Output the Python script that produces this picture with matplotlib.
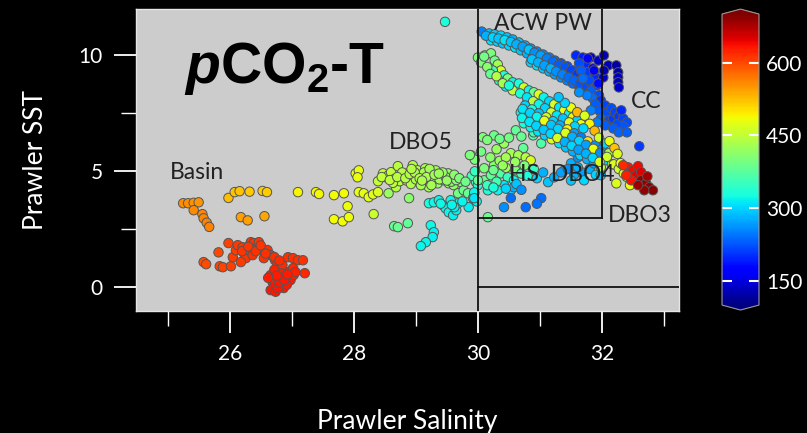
import numpy as np
import matplotlib
matplotlib.use("Agg")
import matplotlib.pyplot as plt
from matplotlib.colors import Normalize

plt.rcParams['font.family'] = ['Lato', 'DejaVu Sans']
plt.rcParams['mathtext.fontset'] = 'custom'
plt.rcParams['mathtext.rm'] = 'Liberation Sans:bold'
plt.rcParams['mathtext.bf'] = 'Liberation Sans:bold'
plt.rcParams['mathtext.bfit'] = 'Liberation Sans:bold:italic'

# ---- data: salinity, SST, pCO2 ----
basin_sal = [25.25, 25.33, 25.42, 25.50, 25.42, 25.56, 25.58, 25.63, 25.67]
basin_sst = [3.62, 3.62, 3.64, 3.66, 3.32, 3.15, 2.97, 2.78, 2.60]
basin_pco2 = [555, 555, 552, 552, 558, 560, 560, 562, 562]

row_sal = [25.98, 26.08, 26.16, 26.32, 26.53, 26.60, 26.18, 26.29, 26.56,
           27.10, 27.39, 27.44, 27.68, 27.84]
row_sst = [3.85, 4.10, 4.14, 4.12, 4.15, 4.10, 3.02, 2.88, 3.06,
           4.10, 4.10, 4.02, 3.97, 4.05]
row_pco2 = [525, 520, 520, 518, 515, 515, 545, 545, 540,
            490, 488, 488, 485, 485]

red_sal = [25.58, 25.62, 25.82, 25.84, 25.89, 25.98, 26.02, 26.05, 26.10, 26.13,
           26.21, 26.23, 26.26, 26.18, 26.29, 26.34, 26.39, 26.45, 26.37, 26.47,
           26.53, 26.61, 26.66, 26.55, 26.73, 26.77, 26.85, 26.94, 27.02, 27.10,
           27.18, 26.66, 26.69, 26.66, 26.74, 26.79, 26.82, 26.85, 26.90, 26.95,
           26.98, 27.02, 27.03, 27.06, 27.21, 26.87, 26.74, 26.70, 26.78, 26.92,
           26.20, 26.30, 26.42, 26.50, 26.58, 26.72, 26.80, 26.72, 26.80, 26.88,
           26.93, 26.76, 26.62]
red_sst = [1.08, 0.99, 1.50, 0.90, 0.86, 1.90, 0.90, 1.29, 1.59, 1.81,
           1.72, 1.47, 1.25, 1.08, 1.60, 1.94, 1.90, 1.72, 1.38, 1.94,
           1.60, 1.60, 1.38, 1.25, 1.16, 1.03, 0.95, 1.29, 1.25, 1.16,
           1.16, 0.52, 0.22, -0.13, 0.09, 0.39, 0.60, 0.17, 0.43, 0.65,
           0.30, 0.82, 0.52, 0.65, 0.60, -0.04, -0.20, 0.35, -0.05, 0.10,
           1.55, 1.75, 1.55, 1.80, 1.45, 1.30, 1.15, 0.75, 0.20, 0.30,
           0.55, 0.50, 0.40]
red_pco2 = [595, 598, 600, 602, 602, 605, 605, 608, 608, 610,
            610, 612, 612, 610, 612, 612, 612, 614, 614, 612,
            615, 615, 615, 615, 615, 618, 618, 615, 615, 615,
            615, 625, 628, 632, 630, 628, 625, 630, 628, 625,
            628, 622, 625, 625, 622, 632, 632, 628, 632, 630,
            612, 612, 614, 612, 615, 616, 618, 626, 630, 630,
            628, 628, 628]

yel_sal = [28.03, 28.08, 28.06, 28.08, 28.16, 28.24, 28.31, 28.39, 27.90,
           27.68, 27.82, 27.92, 28.32]
yel_sst = [4.91, 5.04, 4.74, 4.10, 4.05, 3.88, 4.00, 4.10, 3.49,
           2.93, 2.84, 3.02, 3.15]
yel_pco2 = [480, 480, 480, 478, 476, 476, 474, 470, 482, 485, 485, 484, 458]

dbo5_sal = [28.39, 28.47, 28.52, 28.56, 28.60, 28.65, 28.56, 28.71, 28.68, 28.74,
            28.89, 28.87, 28.95, 28.97, 29.03, 29.05, 29.11, 29.15, 29.19, 29.21,
            29.27, 29.29, 29.32, 29.35, 29.40, 29.45, 29.52, 29.53, 29.60, 29.61,
            29.68, 29.73, 29.77, 29.84, 29.89, 29.97, 28.80, 28.85, 28.92, 29.00,
            29.08, 29.13, 29.25, 29.38, 29.48, 29.57, 29.65, 28.63, 28.78, 29.22,
            29.43, 29.90, 29.95, 30.00,
            28.45, 28.58, 28.70, 28.83, 28.90, 28.98, 29.06, 29.17, 29.30, 29.37,
            29.50, 29.62, 29.70, 29.80, 28.93, 29.10, 29.25]
dbo5_sst = [4.57, 4.91, 4.74, 4.83, 4.96, 4.66, 4.05, 5.22, 4.31, 4.57,
            3.84, 4.91, 5.26, 4.74, 5.04, 4.53, 4.83, 5.13, 4.61, 4.31,
            4.96, 4.70, 5.04, 4.48, 4.83, 4.61, 4.91, 4.48, 4.70, 4.40,
            4.05, 4.53, 4.18, 4.05, 5.69, 4.53, 4.80, 4.60, 4.45, 4.65,
            4.40, 4.95, 4.55, 4.65, 4.75, 4.55, 4.62, 4.50, 4.95, 5.10,
            4.95, 4.80, 5.00, 4.40,
            4.75, 4.62, 4.75, 4.70, 4.88, 4.95, 4.70, 4.75, 4.85, 4.90,
            4.60, 4.85, 4.70, 4.55, 5.10, 4.60, 4.40]
dbo5_pco2 = [452, 450, 450, 448, 448, 446, 420, 445, 440, 444,
             410, 442, 440, 440, 438, 438, 436, 434, 432, 430,
             430, 428, 426, 424, 422, 420, 418, 415, 412, 410,
             395, 405, 390, 385, 395, 350, 444, 440, 438, 436,
             432, 432, 428, 424, 420, 414, 410, 448, 442, 430,
             420, 360, 350, 340,
             450, 448, 445, 442, 440, 438, 436, 432, 428, 424,
             418, 410, 400, 390, 440, 436, 430]

cyan_sal = [29.21, 29.29, 29.37, 29.44, 29.48, 29.53, 29.60, 29.65, 29.68, 29.56,
            29.85, 29.92, 29.94, 29.40, 29.62, 29.75, 29.58, 29.98,
            28.65, 28.71, 28.87, 29.24, 29.29, 29.27, 29.16, 29.08]
cyan_sst = [3.62, 3.66, 3.75, 3.53, 3.40, 3.23, 3.10, 3.32, 3.62, 3.75,
            3.45, 3.84, 4.05, 3.60, 3.45, 3.70, 3.55, 3.70,
            2.63, 2.59, 2.76, 2.67, 2.37, 2.16, 1.94, 1.77]
cyan_pco2 = [325, 322, 320, 320, 318, 318, 316, 316, 318, 320,
             315, 318, 320, 322, 316, 318, 320, 320,
             385, 385, 380, 322, 316, 316, 320, 320]

hs_sal = [30.08, 30.26, 30.61, 30.89, 30.90, 31.02, 30.73, 30.42, 30.53, 30.65,
          30.77, 30.85, 30.26, 30.10, 30.10, 30.00, 30.21, 30.37, 30.48, 30.58,
          30.42, 30.53, 30.58, 30.32, 30.16, 29.94, 29.94, 31.13, 31.23, 31.39,
          31.50, 31.61, 30.53, 31.02, 30.42, 30.77, 30.16, 30.95, 29.95, 30.05,
          30.20, 30.35, 30.45, 30.60, 30.70, 30.80, 30.95, 31.05, 30.30, 30.15,
          30.89, 30.80, 29.87, 31.34, 31.45, 31.55, 31.68, 31.80, 31.90, 31.50,
          31.98, 31.71, 31.61, 31.82,
          30.15, 30.35, 30.50, 30.70, 30.30, 30.45, 30.60, 30.75, 30.90, 30.25,
          30.40, 30.25, 30.45, 30.62, 30.70]
hs_sst = [6.47, 6.55, 6.77, 6.55, 6.68, 6.20, 6.00, 6.20, 5.78, 5.69,
          5.60, 5.47, 5.26, 5.13, 4.61, 4.61, 4.83, 4.91, 4.74, 4.61,
          4.40, 4.18, 4.31, 4.18, 4.18, 4.09, 3.84, 4.53, 4.74, 5.04,
          5.34, 5.60, 3.84, 3.84, 3.45, 3.45, 3.02, 3.60, 5.50, 5.85,
          5.60, 5.45, 5.15, 5.05, 4.90, 4.80, 4.70, 4.95, 4.55, 4.40,
          7.41, 8.06, 5.70, 4.95, 5.10, 4.85, 4.95, 5.10, 4.85, 4.60,
          4.83, 4.61, 5.17, 5.82,
          6.35, 6.40, 6.45, 6.50, 5.95, 5.60, 5.40, 5.25, 5.10, 5.05,
          5.25, 4.30, 4.25, 4.45, 4.20]
hs_pco2 = [400, 390, 380, 370, 360, 370, 380, 420, 430, 430,
           440, 470, 410, 400, 390, 380, 380, 370, 350, 320,
           310, 300, 280, 320, 330, 320, 310, 290, 280, 290,
           280, 260, 240, 240, 260, 240, 385, 245, 400, 395,
           410, 420, 430, 400, 360, 330, 300, 280, 360, 350,
           350, 340, 400, 270, 260, 280, 270, 280, 300, 290,
           290, 300, 280, 270,
           400, 390, 395, 385, 420, 430, 420, 400, 350, 390,
           420, 330, 300, 290, 260]

bandA_sal = [30.06, 30.18, 30.27, 30.37, 30.47, 30.56, 30.66, 30.76, 30.85, 30.95,
             31.05, 31.15, 31.24, 31.34, 31.44, 31.53,
             30.21, 30.31, 30.40, 30.50, 30.60, 30.69, 30.79, 30.89, 30.98, 31.08,
             31.18, 31.27, 31.37, 31.47, 31.56, 31.66,
             30.85, 30.95, 31.05, 31.15, 31.24, 31.34, 31.44, 31.53, 31.63, 31.73,
             31.82,
             30.13, 30.24, 30.33, 30.43, 30.53, 30.62, 30.72, 30.82, 30.91, 31.01,
             31.11, 31.21, 31.30, 31.40, 31.50, 31.60,
             30.87, 30.97, 31.07, 31.17, 31.26, 31.36, 31.46, 31.55, 31.65, 31.75]
bandA_sst = [11.03, 10.95, 10.91, 10.86, 10.78, 10.69, 10.56, 10.43, 10.30, 10.17,
             10.04, 9.91, 9.78, 9.66, 9.53, 9.35,
             10.65, 10.60, 10.52, 10.43, 10.34, 10.22, 10.09, 9.96, 9.83, 9.70,
             9.57, 9.44, 9.31, 9.18, 9.05, 8.92,
             9.70, 9.57, 9.44, 9.31, 9.18, 9.05, 8.92, 8.79, 8.66, 8.53,
             8.41,
             10.85, 10.78, 10.73, 10.66, 10.58, 10.48, 10.38, 10.25, 10.12, 10.00,
             9.87, 9.73, 9.60, 9.48, 9.36, 9.20,
             9.83, 9.70, 9.57, 9.44, 9.31, 9.18, 9.05, 8.92, 8.79, 8.66]
bandA_pco2 = [250, 290, 295, 300, 290, 280, 290, 280, 270, 260,
              260, 250, 240, 230, 220, 210,
              310, 300, 290, 300, 310, 290, 280, 300, 270, 260,
              250, 240, 230, 220, 215, 210,
              300, 310, 290, 280, 270, 260, 250, 240, 230, 220,
              215,
              280, 300, 290, 310, 290, 280, 270, 290, 260, 270,
              250, 240, 230, 225, 215, 210,
              290, 280, 270, 280, 260, 250, 240, 235, 225, 220]

blue_sal = [31.58, 31.69, 31.82, 31.94, 31.74, 31.63, 31.85, 31.76, 31.66, 31.89,
            31.79, 31.69, 31.92, 31.82, 31.95, 31.85, 31.98, 31.89, 31.76, 31.63,
            32.05, 31.95, 32.08, 31.98, 31.82, 32.11, 32.18, 32.05, 31.92,
            32.03, 32.10, 32.23, 32.26, 32.26, 32.26, 32.27, 32.02, 32.03, 31.77,
            31.87, 31.94,
            32.15, 32.21, 32.27, 32.34, 32.40, 32.34, 32.24, 32.18, 32.27, 32.40,
            32.31, 32.60]
blue_sst = [10.00, 9.91, 9.91, 9.78, 9.57, 9.66, 9.44, 9.27, 9.35, 9.09,
            8.92, 9.01, 8.71, 8.49, 8.28, 8.15, 8.06, 7.89, 8.28, 8.41,
            7.84, 7.63, 7.54, 7.28, 7.63, 7.20, 7.28, 6.98, 7.11,
            10.00, 9.57, 9.57, 9.27, 9.05, 8.84, 8.62, 9.05, 9.35, 9.87,
            9.35, 8.79,
            7.72, 7.54, 7.37, 7.28, 7.11, 6.94, 7.03, 6.85, 6.68, 6.68,
            7.63, 6.08]
blue_pco2 = [200, 190, 150, 140, 200, 220, 170, 210, 230, 200,
             220, 240, 210, 230, 220, 240, 210, 230, 250, 260,
             215, 230, 220, 240, 250, 220, 210, 230, 250,
             130, 130, 120, 125, 130, 135, 140, 140, 130, 170,
             160, 180,
             220, 215, 210, 215, 220, 225, 220, 230, 235, 230,
             200, 210]

bandB_sal = [30.00, 30.11, 30.21, 30.27, 30.32, 30.37, 30.42, 30.48, 30.56, 30.66,
             30.74, 30.82, 30.90, 30.98, 31.06, 31.15, 31.23, 31.31, 31.39, 31.47,
             31.53, 31.60, 31.66,
             30.24, 30.34, 30.45, 30.56, 30.68, 30.79, 30.89, 30.98, 31.08, 31.18,
             31.27, 31.37, 31.47, 31.56, 29.47,
             30.05, 30.15, 30.20, 30.30, 30.10, 30.40, 30.50]
bandB_sst = [9.91, 10.00, 10.09, 9.78, 9.61, 9.35, 9.14, 9.01, 8.84, 8.79,
             8.62, 8.49, 8.41, 8.32, 8.19, 8.02, 7.89, 7.76, 7.63, 7.50,
             7.33, 7.20, 7.03,
             9.35, 8.92, 8.66, 8.49, 8.36, 8.19, 8.02, 7.89, 7.72, 7.54,
             7.41, 7.28, 7.11, 6.94, 11.45,
             9.70, 9.50, 9.20, 9.10, 9.95, 8.80, 8.70]
bandB_pco2 = [400, 390, 400, 390, 430, 470, 330, 400, 320, 330,
              460, 320, 390, 470, 320, 300, 470, 310, 480, 320,
              490, 300, 480,
              360, 340, 320, 450, 330, 310, 440, 320, 300, 460,
              310, 290, 470, 300, 330,
              400, 410, 380, 440, 395, 430, 330]

swath_sal = [30.69, 30.81, 30.92, 31.03, 31.15, 31.26, 31.37, 31.48, 31.60, 31.71,
             31.82, 31.94, 32.05, 32.16,
             30.76, 30.87, 30.98, 31.10, 31.21, 31.32, 31.44, 31.55, 31.66, 31.77,
             31.89, 32.00, 32.11,
             30.74, 30.85, 30.97, 31.08, 31.19, 31.31, 31.42, 31.53, 31.65, 31.76,
             31.87, 31.98,
             31.50, 31.60, 31.72, 31.80, 31.88, 31.70, 31.95, 32.05, 31.40, 31.30,
             32.12, 32.20, 32.25,
             30.72, 30.84, 30.95, 31.07, 31.18, 31.29, 31.41, 31.52, 31.63, 31.74,
             31.86, 31.97, 32.08,
             30.71, 30.83, 30.94, 31.06, 31.17, 31.28, 31.40, 31.51, 31.62, 31.74,
             31.85, 31.96]
swath_sst = [7.54, 7.37, 7.20, 7.03, 6.85, 6.68, 6.51, 6.34, 6.16, 5.99,
             5.82, 5.65, 5.47, 5.30,
             7.84, 7.67, 7.50, 7.33, 7.16, 6.98, 6.81, 6.64, 6.47, 6.29,
             6.12, 5.95, 5.78,
             7.07, 6.90, 6.72, 6.55, 6.38, 6.21, 6.03, 5.86, 5.69, 5.52,
             5.34, 5.17,
             7.75, 7.55, 7.40, 7.05, 6.75, 6.85, 6.45, 6.20, 7.95, 8.20,
             6.30, 6.00, 5.75,
             7.69, 7.52, 7.35, 7.18, 7.00, 6.83, 6.66, 6.49, 6.31, 6.14,
             5.97, 5.80, 5.62,
             7.30, 7.13, 6.96, 6.79, 6.62, 6.44, 6.27, 6.10, 5.93, 5.76,
             5.58, 5.41]
swath_pco2 = [320, 300, 470, 310, 290, 480, 300, 280, 520, 300,
              270, 470, 300, 450,
              300, 330, 290, 460, 300, 280, 490, 270, 250, 500,
              260, 270, 430,
              330, 320, 310, 300, 470, 310, 290, 280, 300, 280,
              270, 440,
              480, 530, 470, 490, 530, 300, 460, 300, 300, 290,
              480, 520, 470,
              310, 300, 320, 480, 290, 300, 470, 280, 300, 270,
              480, 260, 460,
              320, 310, 300, 290, 300, 470, 280, 300, 270, 280,
              300, 470]

dbo3_sal = [32.19, 32.27, 32.35, 32.40, 32.30, 32.23, 32.45,
            32.42, 32.50, 32.58, 32.55, 32.47, 32.63, 32.39, 32.34,
            32.63, 32.71, 32.76, 32.82, 32.68, 32.73, 32.58]
dbo3_sst = [5.30, 5.10, 4.90, 4.75, 5.35, 4.48, 4.40,
            5.17, 5.04, 5.22, 4.83, 4.61, 4.96, 4.83, 5.26,
            4.61, 4.48, 4.31, 4.18, 4.18, 4.78, 4.40]
dbo3_pco2 = [470, 460, 470, 440, 480, 470, 480,
             630, 640, 640, 645, 635, 650, 625, 620,
             690, 690, 695, 695, 690, 680, 685]

groups = [
    (basin_sal, basin_sst, basin_pco2),
    (row_sal, row_sst, row_pco2),
    (red_sal, red_sst, red_pco2),
    (yel_sal, yel_sst, yel_pco2),
    (dbo5_sal, dbo5_sst, dbo5_pco2),
    (cyan_sal, cyan_sst, cyan_pco2),
    (hs_sal, hs_sst, hs_pco2),
    (bandA_sal, bandA_sst, bandA_pco2),
    (bandB_sal, bandB_sst, bandB_pco2),
    (blue_sal, blue_sst, blue_pco2),
    (swath_sal, swath_sst, swath_pco2),
    (dbo3_sal, dbo3_sst, dbo3_pco2),
]

region_names = ['ACW PW', 'CC', 'DBO5', 'Basin', 'HS  DBO4', 'DBO3']
region_sal = [31.05, 32.71, 29.08, 25.47, 31.35, 32.61]
region_sst = [11.38, 8.02, 6.25, 4.96, 4.87, 3.10]

cbar_ticks = [150, 300, 450, 600]

# ---- figure ----
fig = plt.figure(figsize=(8.07, 4.33), dpi=100, facecolor='black')
ax = fig.add_axes([0.1685, 0.2818, 0.6729, 0.6972])
ax.set_facecolor('#cccccc')

norm = Normalize(vmin=100, vmax=700)
for s, t, c in groups:
    sc = ax.scatter(s, t, c=c, cmap='jet', norm=norm, s=46,
                    edgecolors='#555555', linewidths=0.7, zorder=2)

# region boxes
ax.axvline(30, color='#111111', lw=1.3, zorder=3)
ax.plot([32, 32], [3, 12.5], color='#111111', lw=1.3, zorder=3)
ax.plot([30, 32], [3, 3], color='#111111', lw=1.3, zorder=3)
ax.plot([30, 34], [0, 0], color='#111111', lw=1.3, zorder=3)

for name, s, t in zip(region_names, region_sal, region_sst):
    ax.text(s, t, name, ha='center', va='center', fontsize=16.5,
            color='#222222', zorder=4)

ax.text(25.27, 8.79, r'$\mathbfit{p}$CO$_\mathbf{2}$-T', fontsize=41,
        fontweight='bold', family='Liberation Sans', color='black',
        ha='left', va='baseline', zorder=4)

ax.set_xlim(24.49, 33.24)
ax.set_ylim(-1.03, 12.0)
ax.set_xticks([26, 28, 30, 32])
ax.set_xticks([25, 27, 29, 31, 33], minor=True)
ax.set_yticks([0, 5, 10])
ax.set_yticks([2.5, 7.5], minor=True)
ax.tick_params(which='major', length=16, width=1.3, color='white',
               labelcolor='white', labelsize=15, pad=8)
ax.tick_params(which='minor', length=11, width=1.0, color='white')
for sp in ax.spines.values():
    sp.set_color('#e6e6e6')
    sp.set_linewidth(1.0)

ax.set_xlabel('Prawler Salinity', color='white', fontsize=19, labelpad=32)
ax.set_ylabel('Prawler SST', color='white', fontsize=19, labelpad=22)

# colorbar
cax = fig.add_axes([0.8947, 0.284, 0.0458, 0.695])
cb = fig.colorbar(sc, cax=cax, extend='both', extendfrac=0.017,
                  ticks=cbar_ticks)
cb.outline.set_edgecolor('#999999')
cb.outline.set_linewidth(0.8)
cax.tick_params(direction='in', left=True, right=True, length=7, width=1.5,
                color='white', labelcolor='white', labelsize=15, pad=5)

fig.savefig('out.png', dpi=100, facecolor='black')
